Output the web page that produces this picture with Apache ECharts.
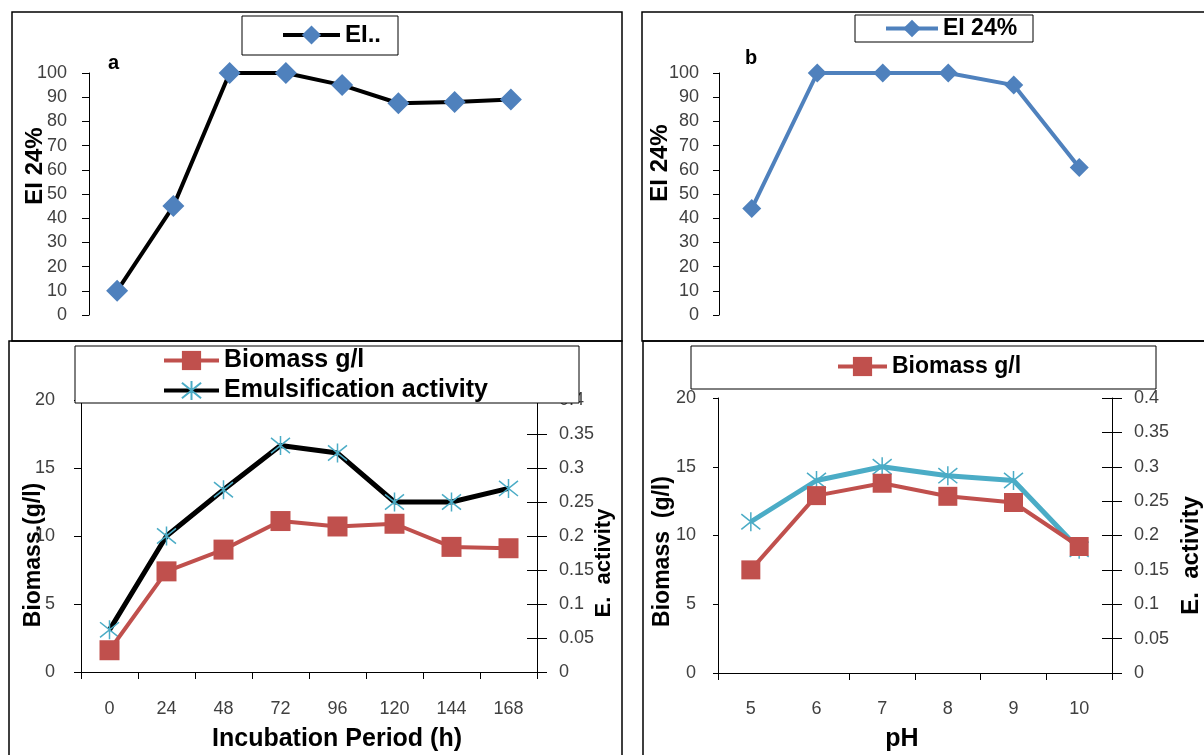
<!DOCTYPE html>
<html>
<head>
<meta charset="utf-8">
<script src="https://cdn.jsdelivr.net/npm/echarts@6/dist/echarts.min.js"></script>
<style>
html,body{margin:0;padding:0;background:#fff;}
#chart{width:1204px;height:755px;}
</style>
</head>
<body>
<div id="chart"></div>
<script>
// ---- data ----
const hours = ['0','24','48','72','96','120','144','168'];
const phValues = ['5','6','7','8','9','10'];
const eiTime = [10,45,100,100,95,87.5,88,89];
const eiPH = [44,100,100,100,95,61];
const biomassTime = [1.6,7.4,9.0,11.1,10.7,10.9,9.2,9.1];
const eaTime = [0.062,0.2,0.268,0.333,0.322,0.25,0.25,0.27];
const biomassPH = [7.5,12.9,13.8,12.85,12.4,9.2];
const eaPH = [0.22,0.28,0.30,0.287,0.28,0.18];

// ---- styles ----
const FONT = 'Liberation Sans';
const BLUE = '#4F81BD', RED = '#C0504D', CYAN = '#4BACC6';
const ASTERISK = 'path://M1,1L9,9M9,1L1,9M5,0L5,10';
const tickLbl = {fontFamily: FONT, fontSize: 18, color: '#404040'};
const nameTxt = (pad, size) => ({fontFamily: FONT, fontSize: size || 22, fontWeight: 'bold', color: '#000', padding: pad});
const axLine = {show: true, lineStyle: {color: '#000', width: 1}};
const legendText = (size) => ({fontFamily: FONT, fontSize: size, fontWeight: 'bold', color: '#000'});

const chart = echarts.init(document.getElementById('chart'), null, {renderer: 'canvas'});

function leftAxis(grid, min, max, interval, name, gap, pad, margin, tickLen, fsz) {
  return {
    type: 'value', gridIndex: grid, position: 'left', min: min, max: max, interval: interval,
    name: name, nameLocation: 'middle', nameGap: gap, nameRotate: 90, nameMoveOverlap: false,
    nameTextStyle: nameTxt(pad, fsz),
    axisLine: axLine, axisTick: {show: true, length: tickLen, lineStyle: {color: '#000'}},
    axisLabel: Object.assign({margin: margin}, tickLbl), splitLine: {show: false}
  };
}
function rightAxis(grid, name, gap, pad, inside, fsz) {
  return {
    type: 'value', gridIndex: grid, position: 'right', min: 0, max: 0.4, interval: 0.05,
    name: inside ? '' : name, nameLocation: 'middle', nameGap: gap, nameRotate: 90, nameMoveOverlap: false,
    nameTextStyle: nameTxt(pad, fsz),
    axisLine: {show: !inside, lineStyle: {color: '#000'}},
    axisTick: {show: true, inside: inside, length: 10, lineStyle: {color: '#000'}},
    axisLabel: Object.assign({show: !inside, margin: 22}, tickLbl),
    splitLine: {show: false}
  };
}

const option = {
  animation: false,
  backgroundColor: '#fff',
  textStyle: {fontFamily: FONT},
  title: [
    {text: 'a', left: 108, top: 53, padding: 0, textStyle: {fontFamily: FONT, fontSize: 20, fontWeight: 'bold', color: '#000'}},
    {text: 'b', left: 745, top: 48, padding: 0, textStyle: {fontFamily: FONT, fontSize: 20, fontWeight: 'bold', color: '#000'}}
  ],
  graphic: [
    {type: 'rect', shape: {x: 12, y: 12, width: 610, height: 329}, style: {fill: 'none', stroke: '#000', lineWidth: 1.5}, z: 1},
    {type: 'rect', shape: {x: 642, y: 12, width: 580, height: 329}, style: {fill: 'none', stroke: '#000', lineWidth: 1.5}, z: 1},
    {type: 'rect', shape: {x: 9, y: 341, width: 613, height: 430}, style: {fill: 'none', stroke: '#000', lineWidth: 1.5}, z: 1},
    {type: 'rect', shape: {x: 643, y: 341, width: 580, height: 430}, style: {fill: 'none', stroke: '#000', lineWidth: 1.5}, z: 1},
    {type: 'rect', shape: {x: 242, y: 16, width: 156, height: 39}, style: {fill: '#fff', stroke: '#000', lineWidth: 1}, z: 5},
    {type: 'rect', shape: {x: 855, y: 15, width: 178, height: 27}, style: {fill: '#fff', stroke: '#000', lineWidth: 1}, z: 5},
    {type: 'rect', shape: {x: 75, y: 346, width: 504, height: 57}, style: {fill: '#fff', stroke: '#000', lineWidth: 1}, z: 5},
    {type: 'rect', shape: {x: 691, y: 346, width: 465, height: 43}, style: {fill: '#fff', stroke: '#000', lineWidth: 1}, z: 5}
  ],
  legend: [
    {data: ['EI..'], left: 281, top: 23, itemWidth: 57, itemHeight: 24, padding: 0, z: 10,
     lineStyle: {width: 4}, textStyle: legendText(24)},
    {data: ['EI 24%'], left: 884, top: 17, itemWidth: 52, itemHeight: 22, padding: 0, z: 10,
     lineStyle: {width: 4}, textStyle: legendText(23)},
    {data: ['Biomass g/l', 'Emulsification activity'], orient: 'vertical', left: 162, top: 348, itemWidth: 55, itemHeight: 24, itemGap: 5, padding: 0, z: 10,
     lineStyle: {width: 4}, textStyle: legendText(25)},
    {data: ['Biomass g/l'], left: 836, top: 355, itemWidth: 49, itemHeight: 24, padding: 0, z: 10,
     lineStyle: {width: 4}, textStyle: legendText(23)}
  ],
  grid: [
    {left: 89, top: 73, width: 450, height: 242},
    {left: 719, top: 73, width: 393, height: 242},
    {left: 81, top: 400, width: 456, height: 272},
    {left: 718, top: 398, width: 397, height: 275}
  ],
  xAxis: [
    {type: 'category', gridIndex: 0, data: hours, show: false, boundaryGap: true},
    {type: 'category', gridIndex: 1, data: phValues, show: false, boundaryGap: true},
    {type: 'category', gridIndex: 2, data: hours, boundaryGap: true,
     name: 'Incubation Period (h)', nameLocation: 'middle', nameGap: 55, nameMoveOverlap: false, nameTextStyle: nameTxt([0,0,0,56], 25),
     axisLine: axLine, axisTick: {show: true, length: 7, lineStyle: {color: '#000'}},
     axisLabel: Object.assign({margin: 28}, tickLbl)},
    {type: 'category', gridIndex: 3, data: phValues, boundaryGap: true,
     name: 'pH', nameLocation: 'middle', nameGap: 54, nameMoveOverlap: false, nameTextStyle: nameTxt([0,26,0,0], 25),
     axisLine: axLine, axisTick: {show: true, length: 7, interval: function (i) { return i !== 1; }, lineStyle: {color: '#000'}},
     axisLabel: Object.assign({margin: 27}, tickLbl)}
  ],
  yAxis: [
    leftAxis(0, 0, 100, 10, 'EI 24%', 42, [0,0,0,56], 22, 7, 24),
    leftAxis(1, 0, 100, 10, 'EI 24%', 47, [0,0,0,62], 20, 6, 24),
    leftAxis(2, 0, 20, 5, 'Biomass.(g/l)', 36, [0,38,0,0], 26, 7, 23),
    rightAxis(2, 'E.  activity', 56, [0,54,0,0], false, 22),
    rightAxis(2, '', 0, 0, true),
    leftAxis(3, 0, 20, 5, 'Biomass  (g/l)', 44, [0,32,0,0], 22, 5, 23),
    rightAxis(3, 'E.  activity', 67, [0,40,0,0], false, 24),
    rightAxis(3, '', 0, 0, true)
  ],
  series: [
    {name: 'EI..', type: 'line', xAxisIndex: 0, yAxisIndex: 0, data: eiTime,
     lineStyle: {color: '#000', width: 4}, itemStyle: {color: BLUE},
     symbol: 'diamond', symbolSize: 22, z: 3},
    {name: 'EI 24%', type: 'line', xAxisIndex: 1, yAxisIndex: 1, data: eiPH,
     lineStyle: {color: BLUE, width: 4}, itemStyle: {color: BLUE},
     symbol: 'diamond', symbolSize: 19, z: 3},
    {name: 'Emulsification activity', type: 'line', xAxisIndex: 2, yAxisIndex: 3, data: eaTime,
     lineStyle: {color: '#000', width: 5}, itemStyle: {color: CYAN, borderColor: CYAN, borderWidth: 1.5},
     symbol: ASTERISK, symbolSize: 19, z: 3},
    {name: 'Biomass g/l', type: 'line', xAxisIndex: 2, yAxisIndex: 2, data: biomassTime,
     lineStyle: {color: RED, width: 4}, itemStyle: {color: RED},
     symbol: 'rect', symbolSize: 20, z: 4},
    {name: 'E. activity (pH)', type: 'line', xAxisIndex: 3, yAxisIndex: 6, data: eaPH,
     lineStyle: {color: CYAN, width: 5}, itemStyle: {color: CYAN, borderColor: CYAN, borderWidth: 1.5},
     symbol: ASTERISK, symbolSize: 19, z: 3},
    {name: 'Biomass g/l', type: 'line', xAxisIndex: 3, yAxisIndex: 5, data: biomassPH,
     lineStyle: {color: RED, width: 4}, itemStyle: {color: RED},
     symbol: 'rect', symbolSize: 19, z: 4}
  ]
};
chart.setOption(option);
</script>
</body>
</html>
